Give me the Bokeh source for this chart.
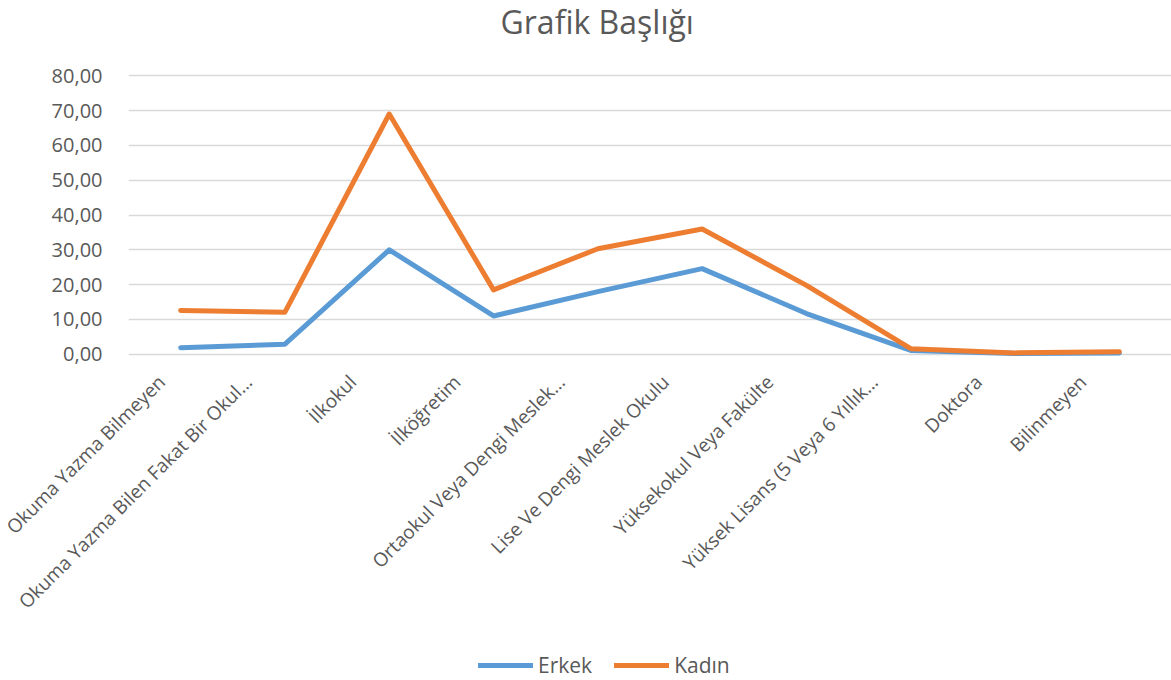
import math
from bokeh.plotting import figure
from bokeh.models import Range1d, FixedTicker, Legend, LegendItem, Label
from bokeh.layouts import column
from bokeh.embed import file_html
from bokeh.resources import INLINE

title_text = "Grafik Başlığı"
categories = [
    "Okuma Yazma Bilmeyen",
    "Okuma Yazma Bilen Fakat Bir Okul…",
    "İlkokul",
    "İlköğretim",
    "Ortaokul Veya Dengi Meslek…",
    "Lise Ve Dengi Meslek Okulu",
    "Yüksekokul Veya Fakülte",
    "Yüksek Lisans (5 Veya 6 Yıllık…",
    "Doktora",
    "Bilinmeyen",
]
erkek = [1.9, 2.9, 30.0, 11.0, 18.0, 24.6, 11.7, 1.1, 0.2, 0.4]
kadin = [12.6, 12.1, 69.0, 18.5, 30.3, 36.0, 19.8, 1.6, 0.4, 0.7]
y_ticks = [0, 10, 20, 30, 40, 50, 60, 70, 80]
y_tick_labels = ["0,00", "10,00", "20,00", "30,00", "40,00", "50,00", "60,00", "70,00", "80,00"]
series_names = ["Erkek", "Kadın"]

FONT = "Open Sans"
TXT = "#595959"
BLUE = "#5B9BD5"
ORANGE = "#ED7D31"

xs = [i + 0.5 for i in range(len(categories))]
label_shift = 0.35  # rotated labels sit a little left of their category
label_ticks = [x - label_shift for x in xs]


def strip(height):
    f = figure(
        width=1171, height=height, output_backend="svg", toolbar_location=None,
        x_range=Range1d(-2, -1), y_range=Range1d(0, 1),
        min_border_left=128, min_border_right=0, min_border_top=0, min_border_bottom=0,
    )
    f.axis.visible = False
    f.grid.visible = False
    f.outline_line_color = None
    return f


# title strip
top = strip(50)
top.add_layout(Label(
    x=372, y=29, x_units="screen", y_units="screen", text=title_text,
    text_font=FONT, text_font_size="32px", text_color=TXT,
    text_align="left", text_baseline="middle",
))

# main chart
p = figure(
    width=1171, height=600,
    x_range=Range1d(0, len(categories)), y_range=Range1d(-1.5, 81.5),
    output_backend="svg", toolbar_location=None,
    min_border_left=128, min_border_right=0, min_border_top=20, min_border_bottom=291,
)
p.outline_line_color = None
p.background_fill_color = "white"

p.yaxis.ticker = FixedTicker(ticks=y_ticks)
p.yaxis.major_label_overrides = {t: l for t, l in zip(y_ticks, y_tick_labels)}
p.yaxis.axis_line_color = None
p.yaxis.major_tick_line_color = None
p.yaxis.minor_tick_line_color = None
p.yaxis.major_label_text_font = FONT
p.yaxis.major_label_text_font_size = "20px"
p.yaxis.major_label_text_color = TXT
p.yaxis.major_label_standoff = 20

p.xaxis.ticker = FixedTicker(ticks=label_ticks)
p.xaxis.major_label_overrides = {x: c for x, c in zip(label_ticks, categories)}
p.xaxis.major_label_orientation = math.pi / 4
p.xaxis.axis_line_color = None
p.xaxis.major_tick_line_color = None
p.xaxis.minor_tick_line_color = None
p.xaxis.major_label_text_font = FONT
p.xaxis.major_label_text_font_size = "19px"
p.xaxis.major_label_text_color = TXT
p.xaxis.major_label_standoff = 13

p.xgrid.grid_line_color = None
p.ygrid.ticker = FixedTicker(ticks=y_ticks)
p.ygrid.grid_line_color = "#D9D9D9"
p.ygrid.grid_line_width = 1.3

p.line(xs, erkek, line_color=BLUE, line_width=5, line_join="round", line_cap="round")
p.line(xs, kadin, line_color=ORANGE, line_width=5, line_join="round", line_cap="round")

# legend strip (series drawn out of view; only their legend swatches show)
leg = strip(30)
lr1 = leg.line(xs, erkek, line_color=BLUE, line_width=5, line_cap="round")
lr2 = leg.line(xs, kadin, line_color=ORANGE, line_width=5, line_cap="round")
legend = Legend(
    items=[LegendItem(label=series_names[0], renderers=[lr1]),
           LegendItem(label=series_names[1], renderers=[lr2])],
    location=(350, 1),
    orientation="horizontal",
    glyph_width=55, glyph_height=12,
    label_standoff=5, spacing=22, padding=0, margin=0,
    label_text_font=FONT, label_text_font_size="21px", label_text_color=TXT,
    border_line_color=None, background_fill_alpha=0,
)
leg.add_layout(legend, "center")

layout = column(top, p, leg, spacing=0)
open("out.html", "w").write(file_html(layout, INLINE))
